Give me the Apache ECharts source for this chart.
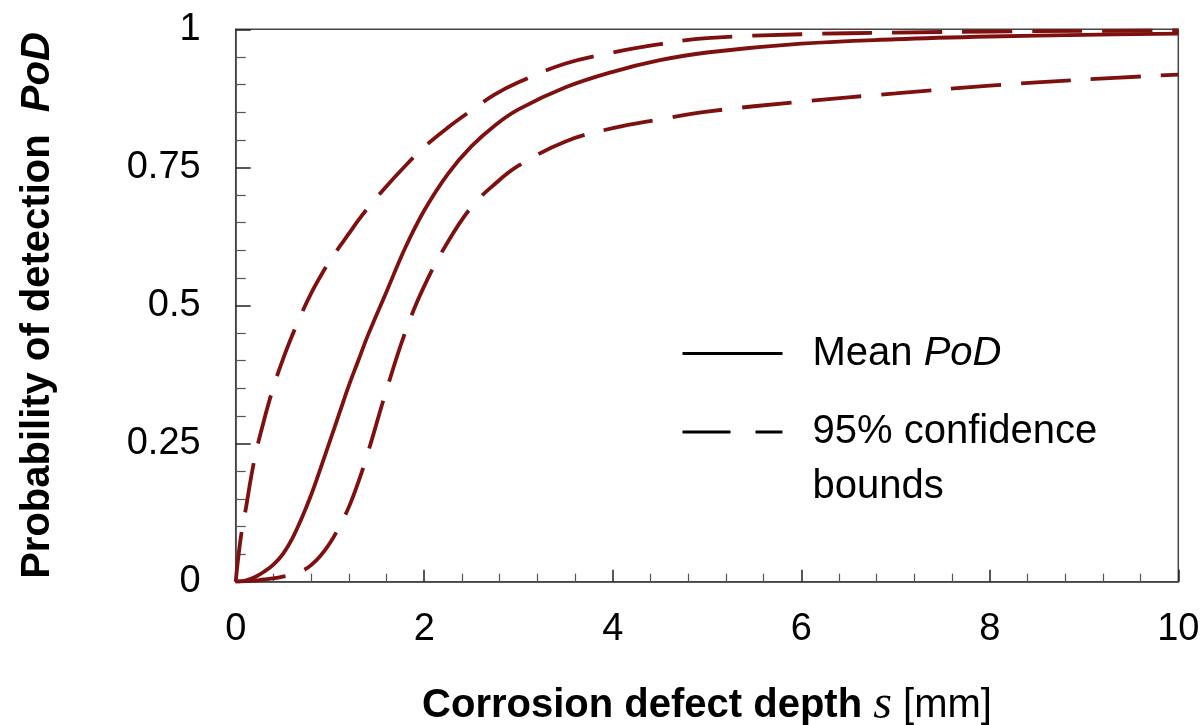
<!DOCTYPE html>
<html>
<head>
<meta charset="utf-8">
<script src="https://cdn.jsdelivr.net/npm/echarts@6/dist/echarts.min.js"></script>
<style>
  html, body { margin: 0; padding: 0; background: #fff; }
  #chart { width: 1202px; height: 725px; }
</style>
</head>
<body>
<div id="chart"></div>
<script>
// defect depth s [mm]
const depth = [0, 0.05, 0.1, 0.2, 0.3, 0.4, 0.5, 0.6, 0.7, 0.8, 0.9, 1.0, 1.1, 1.2, 1.3, 1.4, 1.6, 1.8, 2.0,
    2.25, 2.5, 2.75, 3.0, 3.5, 4.0, 4.5, 5.0, 6.0, 7.0, 8.0, 9.0, 10];
// mean PoD
const meanPoD = [0, 0.0005, 0.002, 0.008, 0.018, 0.031, 0.05, 0.078, 0.115, 0.157, 0.205, 0.255, 0.305,
    0.355, 0.40, 0.445, 0.525, 0.605, 0.672, 0.738, 0.788, 0.826, 0.855, 0.895, 0.923, 0.944, 0.958,
    0.974, 0.982, 0.987, 0.99, 0.992];
// 95% bounds
const upperPoD = [0, 0.075, 0.125, 0.222, 0.292, 0.352, 0.402, 0.446, 0.486, 0.522, 0.553, 0.581, 0.606,
    0.63, 0.654, 0.676, 0.716, 0.753, 0.787, 0.822, 0.853, 0.882, 0.904, 0.938, 0.958, 0.973, 0.984,
    0.991, 0.994, 0.996, 0.997, 0.998];
const lowerPoD = [0, 0.0005, 0.001, 0.002, 0.004, 0.006, 0.009, 0.013, 0.019, 0.03, 0.047, 0.07, 0.1,
    0.135, 0.18, 0.232, 0.347, 0.452, 0.535, 0.615, 0.678, 0.72, 0.753, 0.797, 0.821, 0.837, 0.851,
    0.869, 0.884, 0.898, 0.909, 0.918];

const xTicks = { min: 0, max: 10, interval: 2 };
const yTicks = { min: 0, max: 1, interval: 0.25 };

const lineColor = '#7f1010';
const sans = "'Liberation Sans', Arial, Helvetica, sans-serif";
const serif = "'Liberation Serif', 'Times New Roman', serif";

const pairs = (ys) => depth.map((x, i) => [x, ys[i]]);

const curve = (name, ys, dashed) => ({
    name: name,
    type: 'line',
    data: pairs(ys),
    smooth: 0.4,
    showSymbol: false,
    symbol: 'none',
    silent: true,
    lineStyle: {
        color: lineColor,
        width: 3.8,
        type: dashed ? [50, 20] : 'solid'
    },
    itemStyle: { color: lineColor },
    z: 3
});

const legendText = (padTop) => ({
    fontFamily: sans,
    fontSize: 40,
    lineHeight: 55,
    color: '#000',
    padding: [padTop, 0, 0, 25],
    rich: {
        r: { fontFamily: sans, fontSize: 40, lineHeight: 55, color: '#000' },
        i: { fontFamily: sans, fontSize: 40, lineHeight: 55, color: '#000', fontStyle: 'italic' }
    }
});

const chart = echarts.init(document.getElementById('chart'));
chart.setOption({
    animation: false,
    backgroundColor: '#fff',
    grid: {
        left: 235.7,
        right: 23.7,
        top: 29.3,
        bottom: 143.3,
        outerBoundsMode: 'none',
        containLabel: false,
        show: true,
        borderColor: '#444',
        borderWidth: 1.5,
        backgroundColor: 'transparent'
    },
    legend: [
        {
            data: ['Mean PoD'],
            orient: 'vertical',
            left: 681,
            top: 326,
            padding: 0,
            selectedMode: false,
            itemWidth: 100,
            itemHeight: 2,
            itemStyle: { color: 'rgba(0,0,0,0)', opacity: 0, borderWidth: 0 },
            lineStyle: { color: '#000', width: 3, type: 'solid' },
            formatter: () => '{r|Mean }{i|PoD}',
            textStyle: legendText(0)
        },
        {
            data: ['95% confidence bounds'],
            orient: 'vertical',
            left: 681,
            top: 349.5,
            padding: 0,
            selectedMode: false,
            itemWidth: 100,
            itemHeight: 2,
            itemStyle: { color: 'rgba(0,0,0,0)', opacity: 0, borderWidth: 0 },
            lineStyle: { color: '#000', width: 3, type: [48, 25] },
            formatter: () => '95% confidence\nbounds',
            textStyle: legendText(55)
        }
    ],
    xAxis: {
        type: 'value',
        min: xTicks.min,
        max: xTicks.max,
        interval: xTicks.interval,
        name: '{b|Corrosion defect depth }{s|s}{r| [mm]}',
        nameLocation: 'middle',
        nameGap: 100,
        nameTextStyle: {
            rich: {
                b: { fontFamily: sans, fontSize: 40, fontWeight: 'bold', color: '#000' },
                s: { fontFamily: serif, fontSize: 48, fontStyle: 'italic', color: '#000' },
                r: { fontFamily: sans, fontSize: 40, color: '#000' }
            }
        },
        axisLine: { show: true, lineStyle: { color: '#444', width: 1.5 } },
        axisTick: { show: true, inside: true, length: 12, lineStyle: { color: '#222', width: 1.5 } },
        minorTick: { show: true, splitNumber: 5, length: 8, lineStyle: { color: '#555', width: 1.2 } },
        splitLine: { show: false },
        minorSplitLine: { show: false },
        axisLabel: {
            fontFamily: sans,
            fontSize: 38,
            color: '#000',
            margin: 29
        }
    },
    yAxis: {
        type: 'value',
        min: yTicks.min,
        max: yTicks.max,
        interval: yTicks.interval,
        name: '{b|Probability of detection  }{i|PoD}',
        nameLocation: 'middle',
        nameGap: 178,
        nameTextStyle: {
            rich: {
                b: { fontFamily: sans, fontSize: 40, fontWeight: 'bold', color: '#000' },
                i: { fontFamily: sans, fontSize: 40, fontWeight: 'bold', fontStyle: 'italic', color: '#000' }
            }
        },
        axisLine: { show: true, lineStyle: { color: '#444', width: 1.5 } },
        axisTick: { show: true, inside: true, length: 15, lineStyle: { color: '#222', width: 1.5 } },
        minorTick: { show: true, splitNumber: 5, length: 10, lineStyle: { color: '#555', width: 1.2 } },
        splitLine: { show: false },
        minorSplitLine: { show: false },
        axisLabel: {
            fontFamily: sans,
            fontSize: 38,
            color: '#000',
            margin: 35
        }
    },
    series: [
        curve('Mean PoD', meanPoD, false),
        curve('95% confidence bounds', upperPoD, true),
        curve('95% confidence bounds', lowerPoD, true)
    ]
});
</script>
</body>
</html>
